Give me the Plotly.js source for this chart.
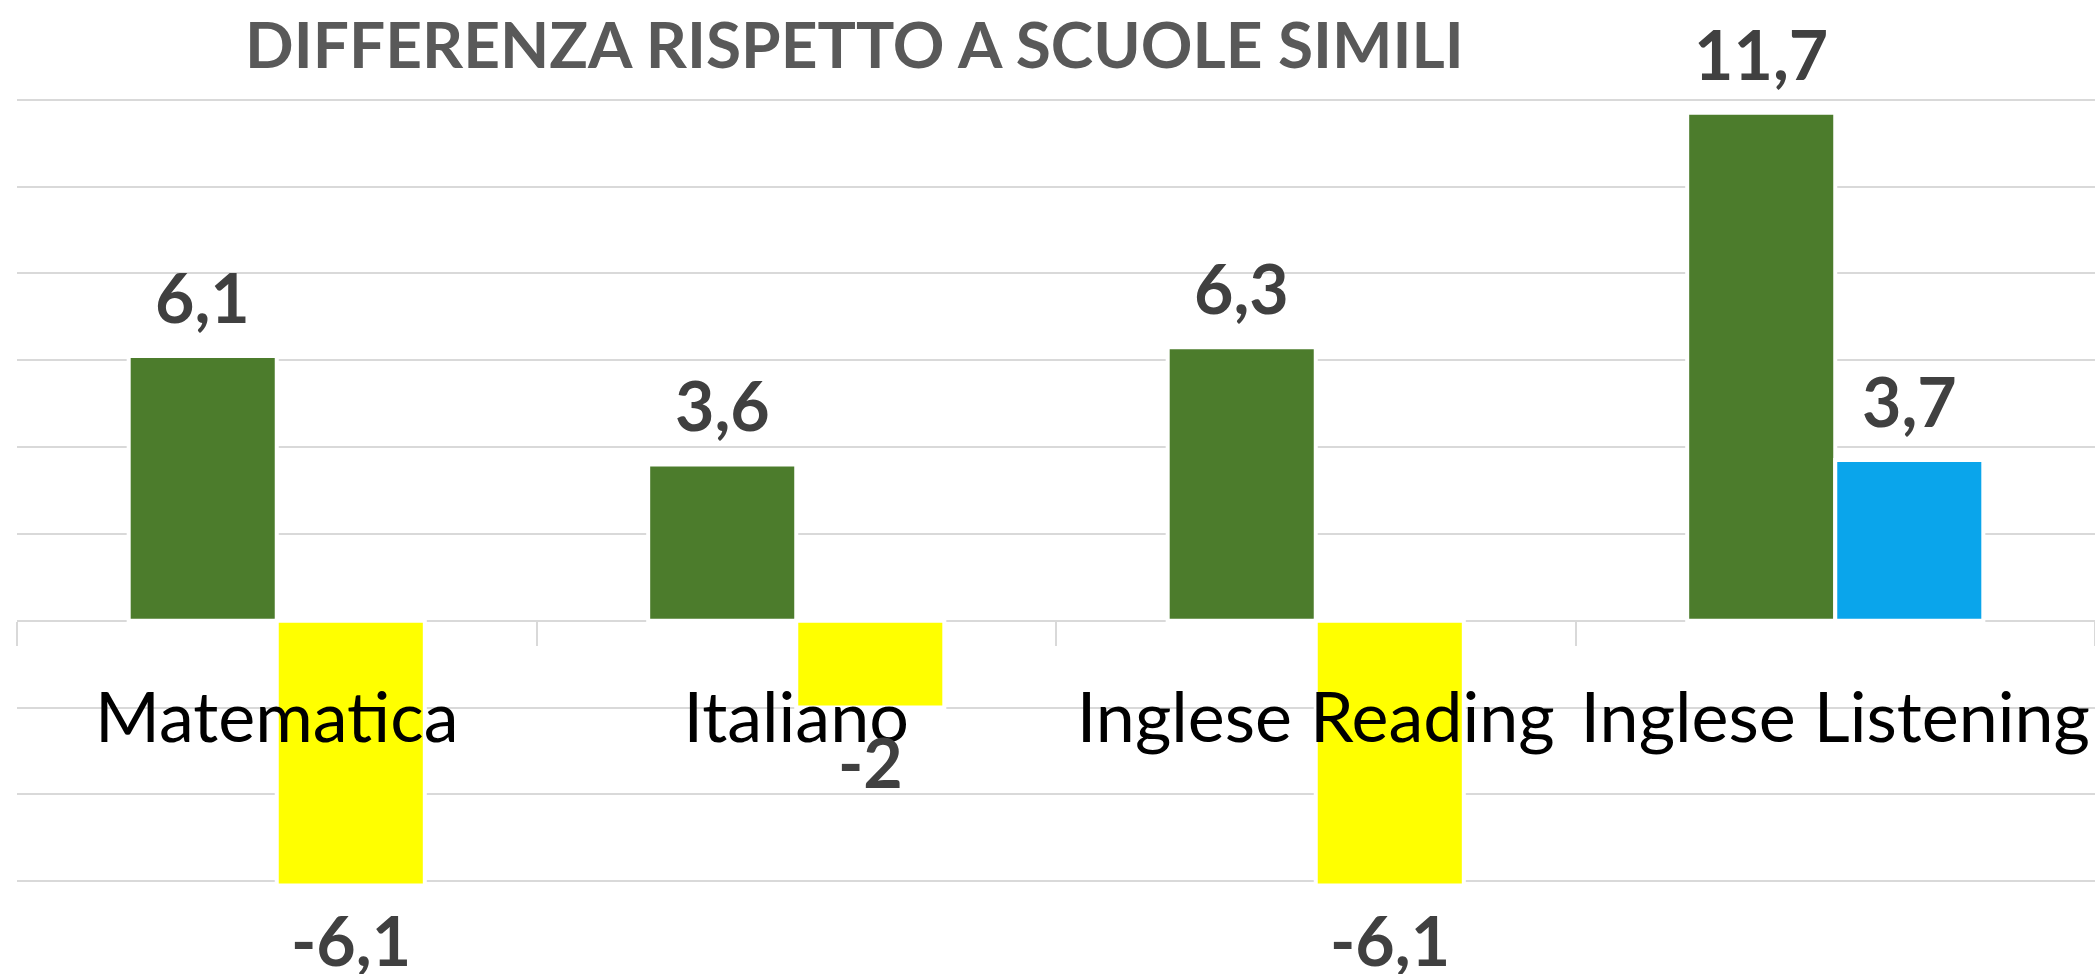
<!DOCTYPE html>
<html>
<head>
<meta charset="utf-8">
<script src="https://cdn.plot.ly/plotly-3.0.1.min.js"></script>
<style>html,body{margin:0;padding:0;background:#fff;}#chart{width:2095px;height:974px;}</style>
</head>
<body>
<div id="chart"></div>
<script>
const chartTitle = "DIFFERENZA RISPETTO A SCUOLE SIMILI";
const categories = ["Matematica", "Italiano", "Inglese Reading", "Inglese Listening"];
const seriesA = [6.1, 3.6, 6.3, 11.7];
const seriesB = [-6.1, -2, -6.1, 3.7];
const colorA = "#4C7C2C";
const colorsB = ["#FFFF00", "#FFFF00", "#FFFF00", "#0AA5EB"];

const fmt = v => String(v).replace(".", ",");
const FONT = "Lato, 'Open Sans', sans-serif";
const labelFont = {family: FONT, size: 68, color: "#404040", weight: "bold"};

const margin = {l: 17, r: 0, t: 13, b: 6};
const W = 2095, H = 974;
const bargap = 0.43;
// half of one bar slot inside a group, in pixels (derived from layout)
const slotHalf = ((W - margin.l - margin.r) / categories.length) * (1 - bargap) / 4;

const traces = [
  {
    type: "bar", x: categories, y: seriesA, name: "A",
    marker: {color: colorA, line: {color: "#ffffff", width: 4}},
    hoverinfo: "x+y"
  },
  {
    type: "bar", x: categories, y: seriesB, name: "B",
    marker: {color: colorsB, line: {color: "#ffffff", width: 4}},
    hoverinfo: "x+y"
  }
];

function labelAnn(vals, side) {
  return vals.map((v, i) => ({
    x: categories[i], y: v, xref: "x", yref: "y",
    text: "<b>" + fmt(v) + "</b>", showarrow: false,
    xshift: side * slotHalf,
    yanchor: v >= 0 ? "bottom" : "top",
    yshift: v >= 0 ? 17 : -11,
    font: labelFont
  }));
}

const layout = {
  width: W, height: H,
  margin: margin,
  paper_bgcolor: "#ffffff", plot_bgcolor: "#ffffff",
  showlegend: false,
  barmode: "group", bargap: bargap, bargroupgap: 0,
  title: {
    text: "<b>" + chartTitle + "</b>",
    x: 0.403, xanchor: "center", xref: "paper",
    y: 0.953, yanchor: "middle", yref: "container",
    font: {family: FONT, size: 64, color: "#595959"}
  },
  xaxis: {
    type: "category", anchor: "free", position: 8/22,
    showgrid: false, zeroline: false, showline: false,
    ticks: "outside", tickson: "boundaries", ticklen: 24, tickwidth: 2, tickcolor: "#d9d9d9",
    ticklabelstandoff: 50,
    tickfont: {family: FONT, size: 70, color: "#000000"}
  },
  yaxis: {
    range: [-8, 14], dtick: 2, tick0: 0,
    showgrid: true, gridcolor: "#d9d9d9", gridwidth: 2,
    zeroline: true, zerolinecolor: "#d9d9d9", zerolinewidth: 2,
    showticklabels: false, ticks: ""
  },
  annotations: labelAnn(seriesA, -1).concat(labelAnn(seriesB, 1))
};

Plotly.newPlot("chart", traces, layout, {displayModeBar: false, staticPlot: true});
</script>
</body>
</html>
